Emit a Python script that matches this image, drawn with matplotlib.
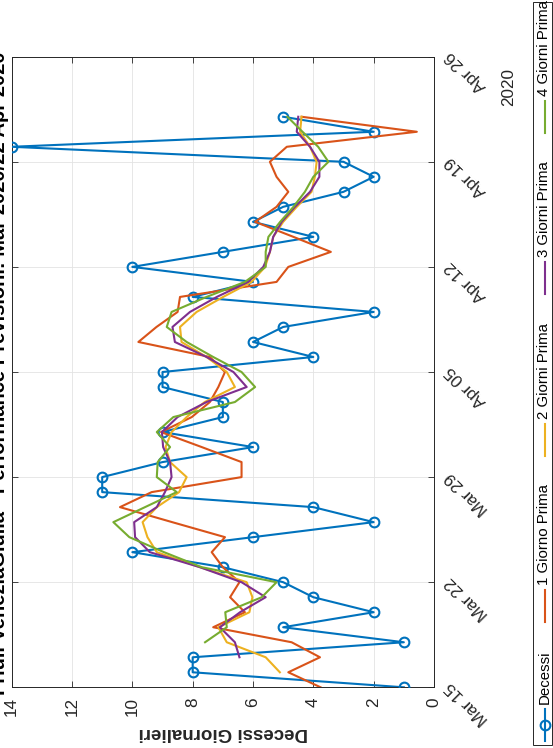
import numpy as np
import matplotlib
matplotlib.use('Agg')
import matplotlib.pyplot as plt
import matplotlib.dates as mdates
import matplotlib.transforms as mtransforms
from matplotlib.lines import Line2D
from matplotlib.patches import Rectangle

plt.rcParams['font.family'] = ['Liberation Sans', 'DejaVu Sans']

nan = np.nan
start = np.datetime64('2020-03-15')
dates = start + np.arange(39)

decessi = [1, 8, 8, 1, 5, 2, 4, 5, 7, 10, 6, 2, 4, 11, 11, 9, 6, 9, 7, 7,
           9, 9, 4, 6, 5, 2, 8, 6, 10, 7, 4, 6, 5, 3, 2, 3, 14, 2, 5]
prev1 = [3.76, 4.83, 3.78, 4.72, 7.32, 6.27, 6.76, 6.45, 7.0, 7.37, 6.93, 8.68, 10.41,
         9.36, 6.38, 6.38, 7.7, 9.05, 8.03, 7.43, 7.15, 6.93, 7.43, 9.8, 9.2, 8.5,
         8.42, 5.22, 4.83, 3.42, 4.66, 5.93, 5.22, 4.83, 5.22, 5.44, 4.88, 0.57, 4.39]
prev2 = [nan, 5.11, 5.58, 6.87, 7.15, 6.12, 6.02, 6.21, 7.76, 9.19, 9.5, 9.66, 9.19,
         8.45, 8.2, 8.75, 8.9, 8.7, 8.2, 7.6, 6.6, 6.87, 7.54, 8.37, 8.42, 7.87,
         6.99, 6.05, 5.6, 5.44, 5.33, 5.0, 4.55, 4.06, 3.95, 3.89, 4.11, 4.44, 4.39]
prev3 = [nan, nan, 6.45, 6.6, 7.1, 6.43, 5.58, 6.38, 7.76, 9.42, 9.91, 9.94, 9.19,
         8.92, 8.7, 8.75, 8.98, 9.02, 8.5, 7.54, 6.21, 6.65, 7.54, 8.59, 8.67, 8.09,
         7.2, 6.16, 5.66, 5.44, 5.33, 5.05, 4.61, 4.11, 3.8, 3.8, 4.11, 4.55, 4.5]
prev4 = [nan, nan, nan, 7.59, 6.87, 6.92, 5.71, 5.22, 7.7, 8.95, 10.1, 10.63, 9.58,
         8.53, 9.19, 9.16, 8.75, 9.19, 8.64, 6.6, 5.93, 6.38, 7.32, 8.2, 8.86, 8.7,
         7.54, 6.27, 5.58, 5.58, 5.49, 5.1, 4.66, 4.28, 4.0, 3.5, 3.84, 4.36, 4.86]

series_names = ['Decessi', '1 Giorno Prima', '2 Giorni Prima', '3 Giorni Prima', '4 Giorni Prima']
colors = ['#0072BD', '#D95319', '#EDB120', '#7E2F8E', '#77AC30']
value_ticks = list(range(0, 15, 2))
date_ticks = start + np.arange(0, 43, 7)
title = 'Friuli VeneziaGiulia - Performance Previsioni: Mar 2020/22 Apr 2020'
ylabel = 'Decessi Giornalieri'
year_label = '2020'

W, H = 553, 748
fig = plt.figure(figsize=(W / 100, H / 100), dpi=100)
ax_l, ax_r, ax_t, ax_b = 11.7, 434.0, 56.7, 687.3
ax = fig.add_axes([ax_l / W, 1 - ax_b / H, (ax_r - ax_l) / W, (ax_b - ax_t) / H])

lw = 1.5
ax.plot(decessi, dates, color=colors[0], lw=lw, marker='o', ms=7, mfc='none', mew=1.5, zorder=3)
for vals, c in zip([prev1, prev2, prev3, prev4], colors[1:]):
    ax.plot(vals, dates, color=c, lw=lw, zorder=3)

ax.set_xlim(14, 0)
ax.set_xticks(value_ticks)
ax.set_ylim(date_ticks[0], date_ticks[-1])
ax.set_yticks(date_ticks)
ax.yaxis.set_major_formatter(mdates.DateFormatter('%b %d'))

ax.grid(True, color='#E3E3E3', lw=0.6, zorder=0)
ax.set_axisbelow(True)
for s in ax.spines.values():
    s.set_color('#262626')
    s.set_linewidth(0.7)
ax.tick_params(direction='in', length=4.5, width=0.6, color='#262626',
               top=True, bottom=True, left=True, right=True,
               labelleft=False, labelright=False, labelsize=12.3, labelcolor='#262626')
ax.tick_params(axis='x', pad=7)
for lab in ax.get_xticklabels():
    lab.set_rotation(90)
    lab.set_rotation_mode('anchor')
    lab.set_ha('right')
    lab.set_va('center')

# date tick labels, rotated diagonally as in the reference
fmt = mdates.DateFormatter('%b %d')
off = mtransforms.ScaledTranslation(14 / 100, 3 / 100, fig.dpi_scale_trans)
for d in date_ticks:
    ax.text(1.0, d, fmt(mdates.date2num(d)), transform=ax.get_yaxis_transform() + off,
            rotation=135, rotation_mode='anchor', ha='right', va='center',
            fontsize=12.3, color='#262626', clip_on=False)

# axis label (rotated 180)
fig.text((ax_l + ax_r) / 2 / W, 1 - 732 / H, ylabel, rotation=180, ha='center', va='center',
         fontsize=13.5, fontweight='bold', color='#262626')
# title (rotated 90, clipped at the left edge)
fig.text(5 / W, 1 - 373 / H, title, rotation=90, rotation_mode='anchor', ha='center',
         va='baseline', fontsize=14.5, fontweight='bold', color='#000000')
# year label
fig.text(509 / W, 1 - 87 / H, year_label, rotation=90, ha='center', va='center',
         fontsize=12.3, color='#262626')

# legend (rotated layout)
fig.add_artist(Rectangle((533 / W, 1 - 745 / H), (552 - 533) / W, (745 - 2) / H,
                         transform=fig.transFigure, facecolor='white', edgecolor='#262626', lw=0.7))
renderer = fig.canvas.get_renderer()
xc = 544.5
tok = 32
gap = 5
leg_fs = 10.8
texts = []
for name in series_names:
    t = fig.text(0, 0, name, rotation=90, fontsize=leg_fs)
    texts.append(t.get_window_extent(renderer).height)
    t.remove()
y_bot, y_top = 741, 0
space = ((y_bot - y_top) - len(series_names) * (tok + gap) - sum(texts)) / (len(series_names) - 1)
y = y_bot
for i, (name, c) in enumerate(zip(series_names, colors)):
    y0, y1 = y, y - tok
    fig.add_artist(Line2D([xc / W, xc / W], [1 - y0 / H, 1 - y1 / H], transform=fig.transFigure,
                          color=c, lw=lw))
    if i == 0:
        fig.add_artist(Line2D([xc / W], [1 - (y0 + y1) / 2 / H], transform=fig.transFigure,
                              color=c, marker='o', ms=7, mfc='none', mew=1.5))
    fig.text(xc / W, 1 - (y1 - gap) / H, name, rotation=90, rotation_mode='anchor',
             ha='left', va='center', fontsize=leg_fs, color='#000000')
    y = y1 - gap - texts[i] - space

fig.savefig('out.png', dpi=100)
